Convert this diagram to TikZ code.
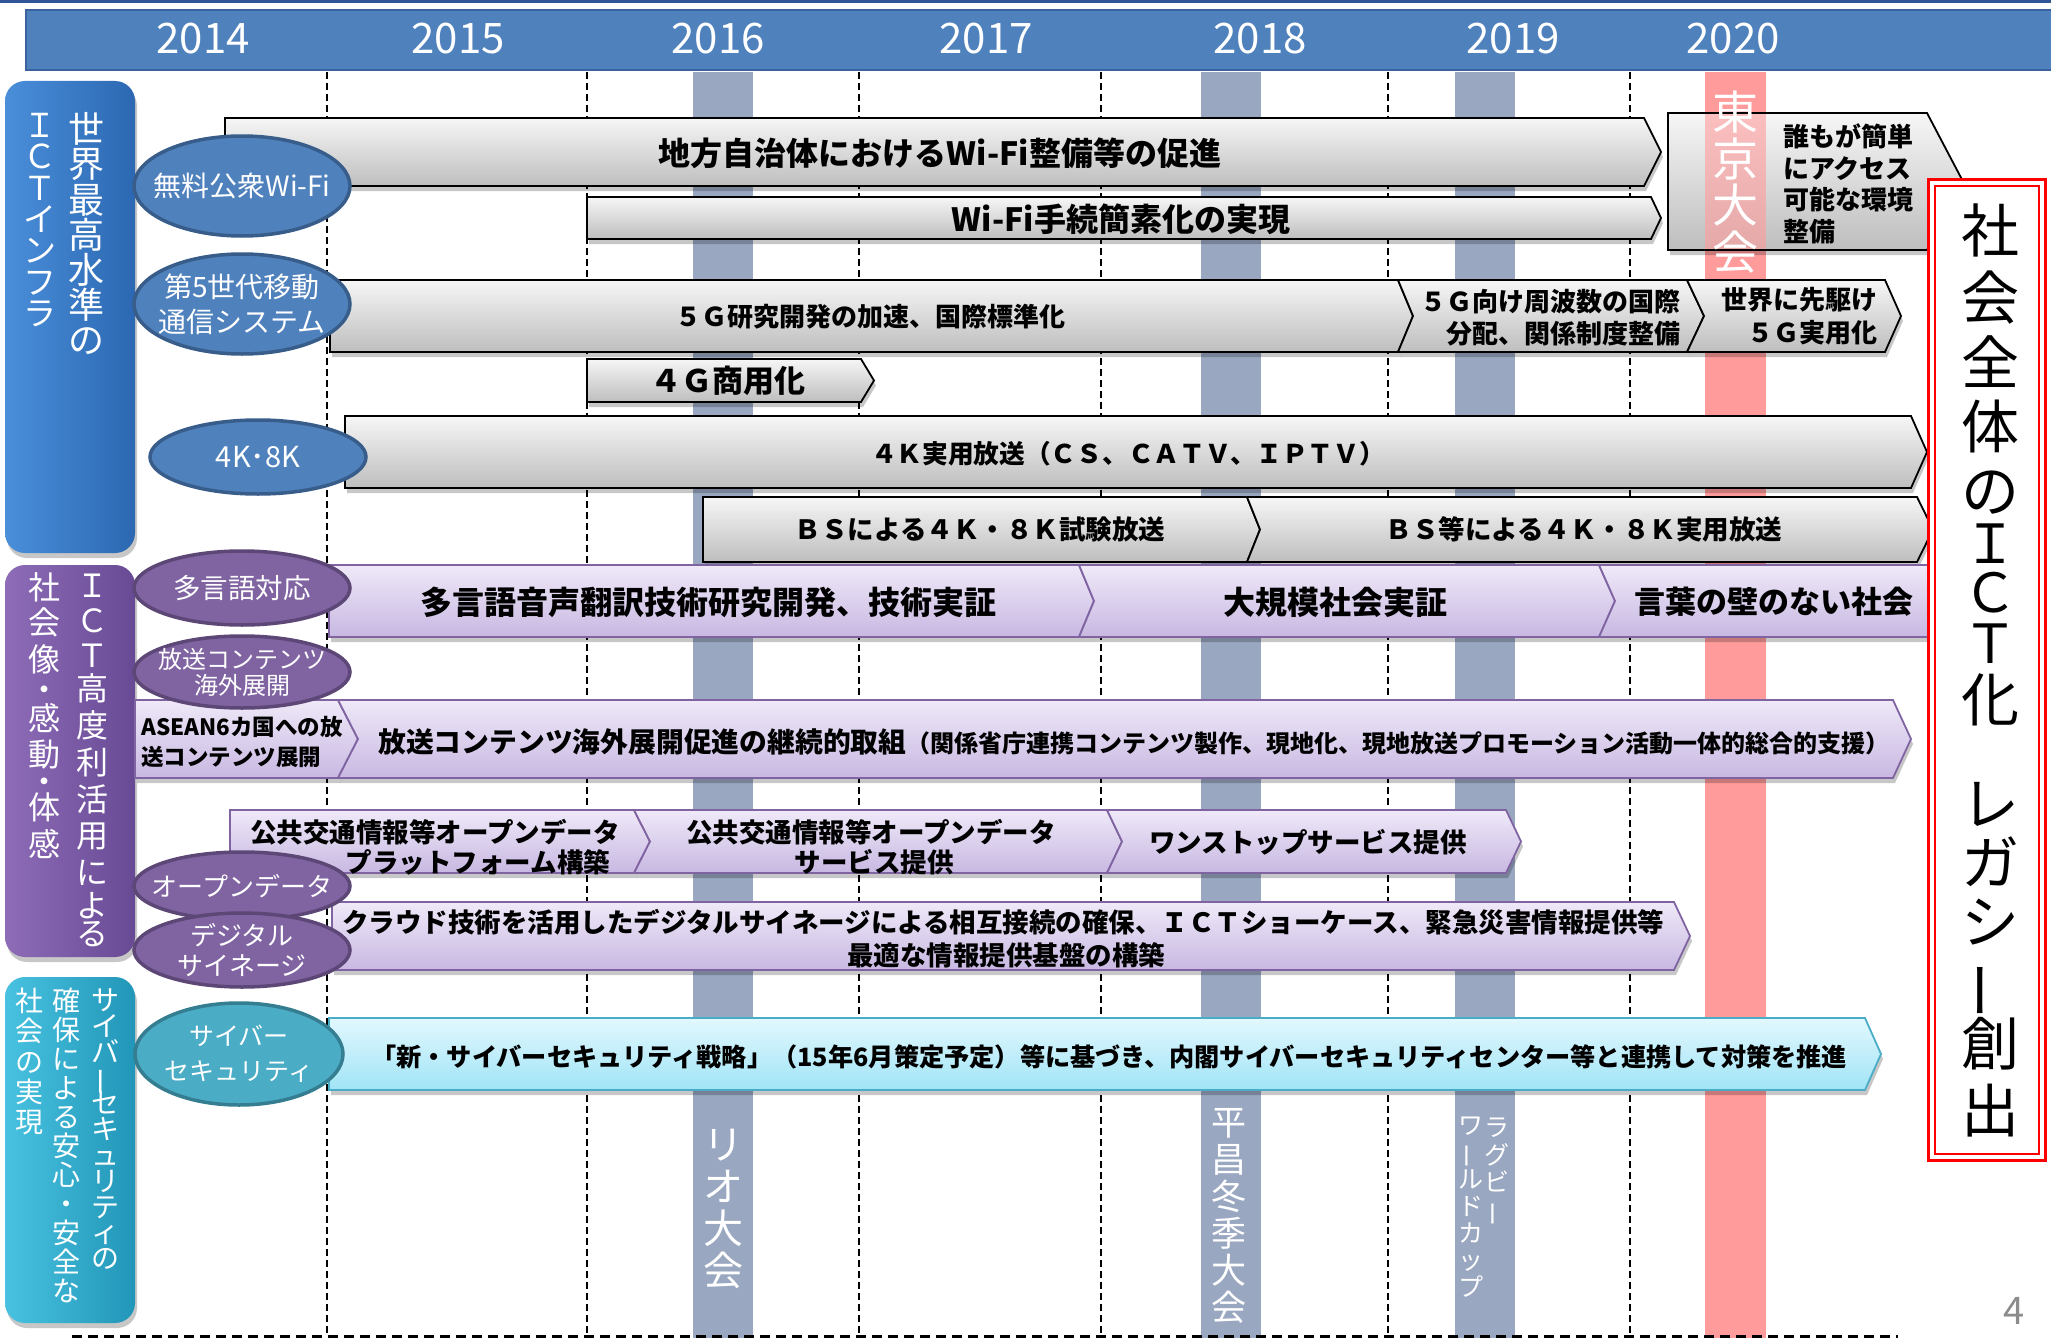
\documentclass[tikz,border=0pt]{standalone}
\usepackage{fontspec}
\usepackage{graphicx}
\setmainfont{Noto Sans CJK JP}
\usetikzlibrary{shapes.geometric,shadows}

\definecolor{hdr}{RGB}{79,129,189}
\definecolor{hdrB}{RGB}{58,100,155}
\definecolor{topline}{RGB}{47,85,151}
\definecolor{bandB}{RGB}{154,167,193}
\definecolor{bandR}{RGB}{255,155,155}
\definecolor{gbT}{RGB}{246,246,246}
\definecolor{gbB}{RGB}{190,190,190}
\definecolor{pbT}{RGB}{239,233,248}
\definecolor{pbB}{RGB}{200,184,226}
\definecolor{pbD}{RGB}{128,100,162}
\definecolor{cbT}{RGB}{226,248,254}
\definecolor{cbB}{RGB}{160,228,246}
\definecolor{cbD}{RGB}{75,172,198}
\definecolor{eB}{RGB}{79,129,189}
\definecolor{eBd}{RGB}{56,93,138}
\definecolor{eP}{RGB}{128,100,162}
\definecolor{ePd}{RGB}{92,71,118}
\definecolor{eT}{RGB}{75,172,198}
\definecolor{eTd}{RGB}{53,125,145}
\definecolor{cBL}{RGB}{74,142,218}
\definecolor{cBR}{RGB}{44,104,178}
\definecolor{cPL}{RGB}{142,108,184}
\definecolor{cPR}{RGB}{104,74,148}
\definecolor{cTL}{RGB}{72,194,224}
\definecolor{cTR}{RGB}{34,150,184}
\definecolor{pnum}{RGB}{140,140,140}

\newcommand\fs[2]{\fontsize{#1}{#2}\selectfont}
\newcommand\chouon{\rotatebox[origin=c]{90}{ー}}
% pentagon arrow: style, x left, y top, x shoulder, x tip, y bottom
\newcommand\pentab[6]{\path[#1] (#2,#3) -- (#4,#3) -- (#5,{(#3+#6)/2}) -- (#4,#6) -- (#2,#6) -- cycle;}
% chevron: style, x left, y top, x shoulder, x tip, y bottom, notch depth
\newcommand\chevb[7]{\path[#1] (#2,#3) -- (#4,#3) -- (#5,{(#3+#6)/2}) -- (#4,#6) -- (#2,#6) -- ({#2+#7},{(#3+#6)/2}) -- cycle;}
% vertical text, uniform pitch: name, x, y first, pitch, style, list
\newcommand\vcol[6]{\foreach \ch [count=\i] in {#6}{\node[vch,#5] (#1-\i) at (#2,{#3+(\i-1)*#4}) {\ch};}}
% vertical text, explicit y: name, x, style, list ch/y
\newcommand\vpos[4]{\foreach \ch/\yy [count=\i] in {#4}{\node[vch,#3] (#1-\i) at (#2,\yy) {\ch};}}

\tikzset{
  shd/.style={drop shadow={shadow xshift=2pt, shadow yshift=-5pt, opacity=0.22, fill=black}},
  gbar/.style={shd, draw=black, line width=1.8pt, top color=gbT, bottom color=gbB},
  pbar/.style={shd, draw=pbD, line width=1.8pt, top color=pbT, bottom color=pbB},
  cbar/.style={shd, draw=cbD, line width=1.8pt, top color=cbT, bottom color=cbB},
  ell/.style={ellipse, inner sep=0pt, line width=3.5pt, minimum width=216pt},
  ellB/.style={ell, fill=eB, draw=eBd},
  ellP/.style={ell, fill=eP, draw=ePd},
  ellT/.style={ell, fill=eT, draw=eTd},
  etxt/.style={inner sep=0pt, text=white, align=center},
  btxt/.style={inner sep=0pt, text=black},
  vch/.style={inner sep=0pt, anchor=center, text depth=0pt},
  wt/.style={text=white},
  vline/.style={black, line width=1.3pt, dash pattern=on 7pt off 4pt},
  yr/.style={inner sep=0pt, text=white, font=\fs{42}{42}},
  cat/.style={shd, rounded corners=20pt}
}

\begin{document}
\begin{tikzpicture}[x=1pt,y=-1pt]
\useasboundingbox (0,0) rectangle (2051,1338);
\fill[white] (0,0) rectangle (2051,1338);

% header
\draw[topline, line width=3pt] (0,1.5) -- (2051,1.5);
\path[fill=hdr, draw=hdrB, line width=2.5pt] (26,10) rectangle (2060,70);
\node[yr] (y2014) at (203,39) {2014};
\node[yr] (y2015) at (458,39) {2015};
\node[yr] (y2016) at (718,39) {2016};
\node[yr] (y2017) at (986,39) {2017};
\node[yr] (y2018) at (1260,39) {2018};
\node[yr] (y2019) at (1513,39) {2019};
\node[yr] (y2020) at (1733,39) {2020};

% dashed year lines
\foreach \xx in {327,587,859,1101,1388,1630} {\draw[vline] (\xx,72) -- (\xx,1336);}

% event bands
\fill[bandB] (693,72) rectangle (753,1340);
\fill[bandB] (1201,72) rectangle (1261,1340);
\fill[bandB] (1455,72) rectangle (1515,1340);
\fill[bandR] (1705,72) rectangle (1766,1340);

\vcol{rio}{723}{1144}{42}{wt, font=\fs{40}{40}, text height=30.4pt}{リ,オ,大,会}
\vcol{pc}{1229}{1122}{37}{wt, font=\fs{35}{35}, text height=26.6pt}{平,昌,冬,季,大,会}
\vcol{rga}{1497}{1127}{27.5}{wt, font=\fs{25}{25}, text height=19pt}{ラ,グ,ビ,\chouon}
\vcol{rgb}{1471}{1125}{27}{wt, font=\fs{25}{25}, text height=19pt}{ワ,\chouon,ル,ド,カ,ッ,プ}

% bottom dashed line
\draw[black, line width=3pt, dash pattern=on 10pt off 6pt] (72,1336) -- (1898,1336);

% category boxes
\path[cat, left color=cBL, right color=cBR] (5,81) rectangle (135,553);
\path[cat, left color=cPL, right color=cPR] (5,565) rectangle (135,957);
\path[cat, left color=cTL, right color=cTR] (5,977) rectangle (135,1323);

\vcol{cb1}{86}{129}{35.2}{wt, font=\fs{36}{36}, text height=27.4pt}{世,界,最,高,水,準,の}
\vcol{cb2}{40}{125}{31.3}{wt, font=\fs{33}{33}, text height=25pt}{Ｉ,Ｃ,Ｔ,イ,ン,フ,ラ}
\vpos{cp1}{92}{wt, font=\fs{32}{32}, text height=24.3pt}{Ｉ/585,Ｃ/620,Ｔ/655,高/688,度/725,利/762,活/799,用/835,に/872,よ/905,る/933}
\vpos{cp2}{44}{wt, font=\fs{32}{32}, text height=24.3pt}{社/587,会/622,像/659,・/689,感/718,動/754,・/781,体/807,感/844}
\vcol{ct1}{105}{1000}{25.8}{wt, font=\fs{28}{28}, text height=21.3pt}{サ,イ,バ,\chouon,セ,キ,ュ,リ,テ,ィ,の}
\vcol{ct2}{66}{1001}{29}{wt, font=\fs{28}{28}, text height=21.3pt}{確,保,に,よ,る,安,心,・,安,全,な}
\vcol{ct3}{29}{1001}{30.2}{wt, font=\fs{28}{28}, text height=21.3pt}{社,会,の,実,現}

% gray bars
\pentab{gbar}{225}{118}{1644}{1661}{186}
\pentab{gbar}{587}{197}{1651}{1661}{239}
\pentab{gbar}{330}{280}{1398}{1413}{352}
\chevb{gbar}{1398}{280}{1687}{1704}{352}{15}
\chevb{gbar}{1687}{280}{1885}{1901}{352}{17}
\pentab{gbar}{587}{359}{861}{874}{402}
\pentab{gbar}{345}{416}{1911}{1927}{488}
\pentab{gbar}{703}{497}{1247}{1260}{562}
\chevb{gbar}{1247}{497}{1917}{1933}{562}{13}

% purple bars
\pentab{pbar}{329}{565}{1079}{1094}{637}
\chevb{pbar}{1079}{565}{1599}{1615}{637}{15}
\chevb{pbar}{1599}{565}{1945}{1960}{637}{16}
\pentab{pbar}{135}{700}{338}{358}{778}
\chevb{pbar}{338}{700}{1893}{1911}{778}{20}
\pentab{pbar}{230}{810}{634}{650}{873}
\chevb{pbar}{634}{810}{1107}{1122}{873}{16}
\chevb{pbar}{1107}{810}{1506}{1521}{873}{15}
\pentab{pbar}{332}{902}{1674}{1690}{970}

% cyan bar
\pentab{cbar}{329}{1018}{1865}{1881}{1090}

% universal access box
\pentab{gbar}{1668}{113}{1927}{1963}{250}
\fill[bandR, opacity=0.6] (1705,114) rectangle (1766,249);
\vcol{tk}{1735}{112}{46.7}{wt, font=\fs{46}{46}, text height=35pt}{東,京,大,会}
\node[btxt, anchor=west, align=left, font=\fs{26}{31.7}\bfseries] (t12) at (1783,184) {誰もが簡単\\にアクセス\\可能な環境\\整備};

% ellipses
\node[ellB, minimum height=100pt] (e1) at (242,186) {};
\node[ellB, minimum height=100pt] (e2) at (242,304) {};
\node[ellB, minimum height=74pt] (e3) at (258,457) {};
\node[ellP, minimum height=74pt] (e4) at (242,588) {};
\node[ellP, minimum height=72pt] (e5) at (242,672) {};
\node[ellP, minimum height=68pt] (e6) at (242,886) {};
\node[ellP, minimum height=74pt] (e7) at (242,950) {};
\node[ellT, minimum width=208pt, minimum height=102pt] (e8) at (239,1054) {};

\node[etxt, font=\fs{28}{34}] (e1t) at (e1.center) {無料公衆Wi-Fi};
\node[etxt, font=\fs{28}{35}] (e2t) at (e2.center) {第5世代移動\\通信システム};
\node[etxt, font=\fs{29}{34}] (e3t) at (e3.center) {4K･8K};
\node[etxt, font=\fs{27.5}{34}] (e4t) at (e4.center) {多言語対応};
\node[etxt, font=\fs{24}{26}] (e5t) at (e5.center) {放送コンテンツ\\海外展開};
\node[etxt, font=\fs{26}{30}] (e6t) at (e6.center) {オープンデータ};
\node[etxt, font=\fs{26}{30}] (e7t) at (e7.center) {デジタル\\サイネージ};
\node[etxt, font=\fs{25}{35}] (e8t) at (e8.center) {サイバー\\セキュリティ};

% bar texts
\node[btxt, font=\fs{32}{38}\bfseries] (t1) at (940,153) {地方自治体におけるWi-Fi整備等の促進};
\node[btxt, font=\fs{32}{38}\bfseries] (t2) at (1121,219) {Wi-Fi手続簡素化の実現};
\node[btxt, font=\fs{26}{32}\bfseries] (t3a) at (870,317) {５Ｇ研究開発の加速、国際標準化};
\node[btxt, anchor=east, align=right, font=\fs{26}{32}\bfseries] (t3b) at (1681,318) {５Ｇ向け周波数の国際\\分配、関係制度整備};
\node[btxt, anchor=east, align=right, font=\fs{26}{33}\bfseries] (t3c) at (1878,316) {世界に先駆け\\５Ｇ実用化};
\node[btxt, font=\fs{31}{36}\bfseries] (t4) at (728,381) {４Ｇ商用化};
\node[btxt, font=\fs{25.7}{30}\bfseries] (t5) at (1128,454) {４Ｋ実用放送（ＣＳ、ＣＡＴＶ、ＩＰＴＶ）};
\node[btxt, font=\fs{26.5}{30}\bfseries] (t6a) at (980,529) {ＢＳによる４Ｋ・８Ｋ試験放送};
\node[btxt, font=\fs{26.5}{30}\bfseries] (t6b) at (1584,529) {ＢＳ等による４Ｋ・８Ｋ実用放送};
\node[btxt, font=\fs{32}{38}\bfseries] (t7a) at (708,602) {多言語音声翻訳技術研究開発、技術実証};
\node[btxt, font=\fs{32}{38}\bfseries] (t7b) at (1335,602) {大規模社会実証};
\node[btxt, font=\fs{31}{38}\bfseries] (t7c) at (1774,602) {言葉の壁のない社会};
\node[btxt, anchor=west, align=left, font=\fs{22.5}{30}\bfseries] (t8a) at (141,742) {ASEAN6カ国への放\\送コンテンツ展開};
\node[btxt, anchor=west, font=\bfseries] (t8b) at (378,742) {{\fs{27.8}{30}放送コンテンツ海外展開促進の継続的取組}{\fs{24}{30}（関係省庁連携コンテンツ製作、現地化、現地放送プロモーション活動一体的総合的支援）}};
\node[btxt, font=\fs{26.5}{30}\bfseries] (t9a1) at (435,832) {公共交通情報等オープンデータ};
\node[btxt, font=\fs{26.5}{30}\bfseries] (t9a2) at (478,862) {プラットフォーム構築};
\node[btxt, font=\fs{26.5}{30}\bfseries] (t9b1) at (871,832) {公共交通情報等オープンデータ};
\node[btxt, font=\fs{26.5}{30}\bfseries] (t9b2) at (874,862) {サービス提供};
\node[btxt, font=\fs{26.5}{30}\bfseries] (t9c) at (1308,842) {ワンストップサービス提供};
\node[btxt, anchor=west, font=\fs{26.5}{30}\bfseries] (t10a) at (342,922) {クラウド技術を活用したデジタルサイネージによる相互接続の確保、ＩＣＴショーケース、緊急災害情報提供等};
\node[btxt, font=\fs{26.5}{30}\bfseries] (t10b) at (1006,955) {最適な情報提供基盤の構築};
\node[btxt, anchor=west, font=\fs{25.2}{30}\bfseries] (t11) at (371,1057) {「新・サイバーセキュリティ戦略」（15年6月策定予定）等に基づき、内閣サイバーセキュリティセンター等と連携して対策を推進};

% red box
\fill[white] (1927,178) rectangle (2047,1162);
\draw[red, line width=3pt] (1928.5,179.5) rectangle (2045.5,1160.5);
\draw[red, line width=1.3pt] (1935,186) rectangle (2039,1154);
\vpos{rb}{1990}{font=\fs{58}{58}, text height=44pt}{社/230,会/297,全/362,体/426,の/490,化/699,レ/803,ガ/862,シ/921,\chouon/981,創/1043,出/1110}
\vpos{rbl}{1990}{font=\fs{54}{54}, text height=41pt}{Ｉ/543,Ｃ/592,Ｔ/643}

% page number
\node[inner sep=0pt, text=pnum, font=\fs{38}{38}] (pg) at (2014,1311) {4};
\end{tikzpicture}
\end{document}
